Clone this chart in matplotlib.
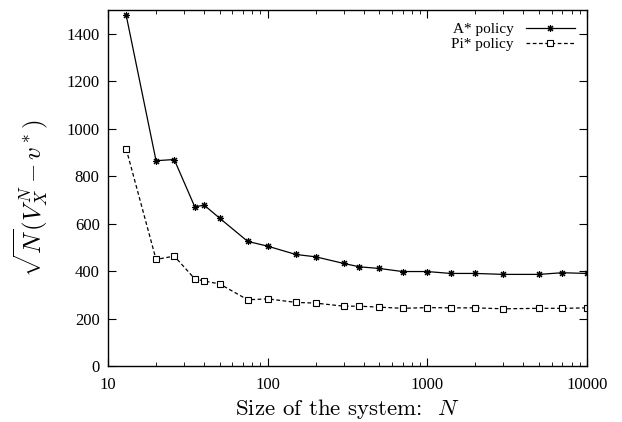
import numpy as np
import matplotlib.pyplot as plt

plt.rcParams['font.family'] = ['Liberation Serif', 'DejaVu Serif']
plt.rcParams['mathtext.fontset'] = 'cm'

sizes = [13, 20, 26, 35, 40, 50, 75, 100, 150, 200, 300, 375, 500, 700,
         1000, 1400, 2000, 3000, 5000, 7000, 10000]
a_star = [1478, 865, 870, 670, 678, 623, 525, 505, 470, 460, 432, 418, 411,
          398, 398, 390, 390, 386, 386, 393, 390]
pi_star = [915, 449, 463, 367, 358, 346, 279, 283, 268, 265, 252, 252, 248,
           243, 246, 245, 245, 241, 243, 243, 245]

fig = plt.figure(figsize=(6.22, 4.22), dpi=100)
ax = fig.add_axes([0.1736, 0.1327, 0.7701, 0.8436])

ax.plot(sizes, a_star, color='black', lw=0.9, marker=(8, 2, 0), ms=5,
        mew=0.8, label='A* policy')
ax.plot(sizes, pi_star, color='black', lw=0.9, ls=(0, (3, 2)), marker='s',
        ms=3.8, mfc='white', mew=0.8, label='Pi* policy')

ax.set_xscale('log')
ax.set_xlim(10, 10000)
ax.set_ylim(0, 1500)
ax.set_yticks(np.arange(0, 1401, 200))
ax.set_xticks([10, 100, 1000, 10000])
ax.set_xticklabels(['10', '100', '1000', '10000'])
ax.tick_params(which='both', direction='in', top=True, right=True,
               labelsize=12)
ax.tick_params(axis='x', pad=8)
ax.tick_params(axis='y', pad=6)
ax.tick_params(which='major', length=6)
ax.tick_params(which='minor', length=3)
for s in ax.spines.values():
    s.set_linewidth(1.0)

ax.set_xlabel('Size of the system:  $N$', fontsize=16.5, labelpad=3,
              fontfamily='cmr10')
ax.set_ylabel(r'$\sqrt{N}(V_X^N - v^*)$', fontsize=18, labelpad=14)
ax.yaxis.set_label_coords(-0.122, 0.47)

ax.legend(loc='upper right', frameon=False, markerfirst=False, fontsize=11,
          handlelength=3.2, borderaxespad=0.4, labelspacing=0.1)

fig.savefig('out.png', dpi=100)
